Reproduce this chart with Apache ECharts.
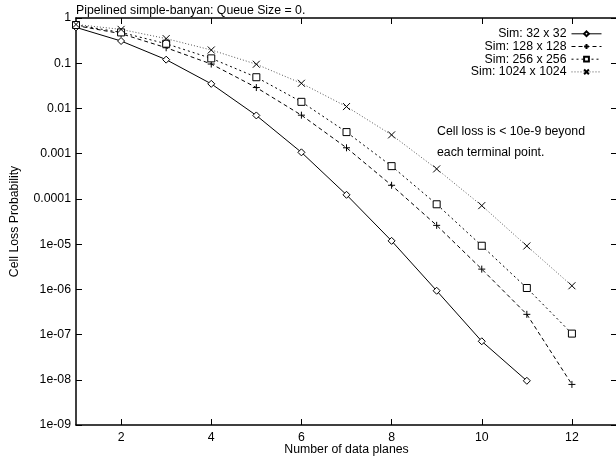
<!DOCTYPE html>
<html>
<head>
<meta charset="utf-8">
<script src="https://cdn.jsdelivr.net/npm/echarts@6/dist/echarts.min.js"></script>
<style>
  html, body { margin: 0; padding: 0; background: #fff; }
  #chart { width: 616px; height: 459px; }
</style>
</head>
<body>
<div id="chart"></div>
<script>
// number of data planes
const planes = [1, 2, 3, 4, 5, 6, 7, 8, 9, 10, 11, 12];
// cell loss probability
const sim32 = [0.62, 0.31, 0.12, 0.035, 0.007, 0.00107, 1.23e-4, 1.18e-5, 9.3e-7, 7.1e-8, 9.5e-9];
const sim128 = [0.68, 0.45, 0.22, 0.096, 0.029, 0.0071, 0.00135, 2.0e-4, 2.6e-5, 2.8e-6, 2.8e-7, 7.9e-9];
const sim256 = [0.70, 0.48, 0.27, 0.128, 0.049, 0.014, 0.003, 5.3e-4, 7.6e-5, 9.2e-6, 1.07e-6, 1.05e-7];
const sim1024 = [0.72, 0.56, 0.35, 0.196, 0.095, 0.036, 0.011, 0.0026, 4.6e-4, 7.1e-5, 9.1e-6, 1.2e-6];
const seriesNames = ["Sim: 32 x 32", "Sim: 128 x 128", "Sim: 256 x 256", "Sim: 1024 x 1024"];
const xTicks = [2, 4, 6, 8, 10, 12];
const yTickLabels = ["1", "0.1", "0.01", "0.001", "0.0001", "1e-05", "1e-06", "1e-07", "1e-08", "1e-09"];

const FONT = "Liberation Sans";
const FS = 12.3;

function pairs(ys) {
  return ys.map((v, i) => [planes[i], v]);
}

const chart = echarts.init(document.getElementById("chart"));

const plusPath = "path://M0,5L10,5M5,0L5,10";
const crossPath = "path://M0,0L10,10M10,0L0,10";

const tickStyle = { inside: true, length: 6, lineStyle: { color: "#000", width: 1 } };
const lineStyleAxis = { color: "#000", width: 1.5 };

const option = {
  animation: false,
  textStyle: { fontFamily: FONT },
  grid: { left: 76, top: 18, width: 541, height: 407, outerBoundsMode: "none", containLabel: false },
  graphic: [
    {
      type: "text", left: 76, top: 5,
      style: { text: "Pipelined simple-banyan: Queue Size = 0.", font: FS + "px " + FONT, fill: "#000" }
    },
    {
      type: "text", left: 437, top: 126,
      style: { text: "Cell loss is < 10e-9 beyond", font: FS + "px " + FONT, fill: "#000" }
    },
    {
      type: "text", left: 437, top: 147,
      style: { text: "each terminal point.", font: FS + "px " + FONT, fill: "#000" }
    }
  ],
  legend: {
    orient: "vertical",
    right: 14,
    top: 27.8,
    align: "right",
    itemWidth: 30,
    itemHeight: 6,
    itemGap: 0.7,
    padding: 0,
    lineStyle: { width: 1 },
    textStyle: { fontSize: FS, lineHeight: 12, color: "#000", fontFamily: FONT },
    data: seriesNames
  },
  xAxis: [
    {
      type: "value", min: 1, max: 13,
      name: "Number of data planes", nameLocation: "middle", nameGap: 19,
      nameMoveOverlap: false,
      nameTextStyle: { fontSize: FS, color: "#000" },
      axisLine: { lineStyle: lineStyleAxis },
      axisTick: Object.assign({ customValues: xTicks }, tickStyle),
      axisLabel: { customValues: xTicks, color: "#000", fontSize: FS, margin: 7 },
      splitLine: { show: false }
    },
    {
      type: "value", min: 1, max: 13, position: "top",
      axisLine: { lineStyle: lineStyleAxis },
      axisTick: Object.assign({ customValues: xTicks }, tickStyle),
      axisLabel: { show: false },
      splitLine: { show: false }
    }
  ],
  yAxis: [
    {
      type: "log", logBase: 10, min: 1e-9, max: 1, splitNumber: 9,
      name: "Cell Loss Probability", nameLocation: "middle", nameGap: 55,
      nameTextStyle: { fontSize: FS, color: "#000" },
      axisLine: { show: true, lineStyle: lineStyleAxis },
      axisTick: tickStyle,
      axisLabel: {
        color: "#000", fontSize: FS, margin: 5,
        formatter: (v) => yTickLabels[Math.round(-Math.log10(v))]
      },
      splitLine: { show: false }
    },
    {
      type: "log", logBase: 10, min: 1e-9, max: 1, splitNumber: 9, position: "right",
      axisLine: { show: false },
      axisTick: Object.assign({ show: true }, tickStyle),
      axisLabel: { show: false },
      splitLine: { show: false }
    }
  ],
  series: [
    {
      name: seriesNames[0], type: "line", data: pairs(sim32),
      symbol: "diamond", symbolSize: 7,
      itemStyle: { color: "#fff", borderColor: "#000", borderWidth: 1 },
      lineStyle: { color: "#000", width: 1, type: "solid" }
    },
    {
      name: seriesNames[1], type: "line", data: pairs(sim128),
      symbol: plusPath, symbolSize: 7,
      itemStyle: { color: "none", borderColor: "#000", borderWidth: 1 },
      lineStyle: { color: "#000", width: 1, type: [4, 3] }
    },
    {
      name: seriesNames[2], type: "line", data: pairs(sim256),
      symbol: "rect", symbolSize: 7,
      itemStyle: { color: "#fff", borderColor: "#000", borderWidth: 1 },
      lineStyle: { color: "#000", width: 1, type: [2, 3] }
    },
    {
      name: seriesNames[3], type: "line", data: pairs(sim1024),
      symbol: crossPath, symbolSize: 7,
      itemStyle: { color: "none", borderColor: "#000", borderWidth: 1 },
      lineStyle: { color: "#555", width: 1, type: [1, 2] }
    }
  ]
};

chart.setOption(option);
</script>
</body>
</html>
